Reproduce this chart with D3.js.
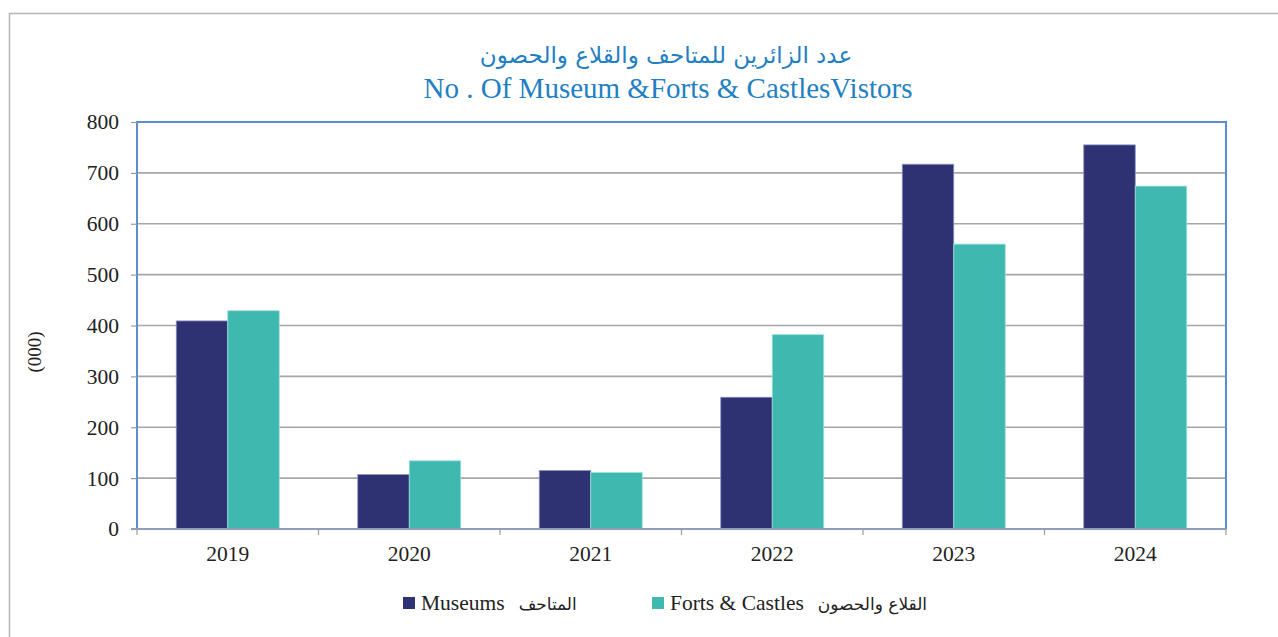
<!DOCTYPE html>
<html>
<head>
<meta charset="utf-8">
<script src="https://cdn.jsdelivr.net/npm/d3@7"></script>
<style>
  html, body { margin: 0; padding: 0; background: #fff; }
  svg { display: block; }
</style>
</head>
<body>
<svg id="chart" width="1278" height="637"></svg>
<script>
// Visitors (thousands) per year
const years = ["2019", "2020", "2021", "2022", "2023", "2024"];
const museums = [409, 107, 115, 259, 717, 755];
const forts = [429, 134, 111, 382, 560, 674];
const yTicks = [0, 100, 200, 300, 400, 500, 600, 700, 800];

const titleAr = "عدد الزائرين للمتاحف والقلاع والحصون";
const titleEn = "No . Of Museum &Forts & CastlesVistors";
const seriesNames = [
  { en: "Museums", ar: "المتاحف", color: "#2e3272" },
  { en: "Forts & Castles", ar: "القلاع والحصون", color: "#3fb8b0" }
];

const svg = d3.select("#chart");
const W = 1278, H = 637;
const m = { left: 137, top: 122, right: 1226, bottom: 529 };
const serif = "'Liberation Serif', 'Times New Roman', serif";
const arabicFont = "'DejaVu Sans', 'Noto Sans', sans-serif";

// outer frame
svg.append("rect")
  .attr("x", 9.5).attr("y", 13.5)
  .attr("width", W + 20).attr("height", H + 20)
  .attr("fill", "none").attr("stroke", "#b4b4b4").attr("stroke-width", 1.5);

const x = d3.scaleBand().domain(years).range([m.left, m.right]).paddingInner(0.4325).paddingOuter(0.21625);
const x1 = d3.scaleBand().domain([0, 1]).range([0, x.bandwidth()]);
const y = d3.scaleLinear().domain([0, 800]).range([m.bottom, m.top]);

// gridlines
svg.append("g").selectAll("line").data(yTicks.filter(d => d > 0 && d < 800)).join("line")
  .attr("x1", m.left).attr("x2", m.right)
  .attr("y1", d => y(d)).attr("y2", d => y(d))
  .attr("stroke", "#a6a6a6").attr("stroke-width", 1.6);

// bars
const groups = svg.append("g").selectAll("g").data(years).join("g")
  .attr("transform", d => `translate(${x(d)},0)`);
groups.selectAll("rect")
  .data((d, i) => [museums[i], forts[i]].map((v, k) => ({ v, k })))
  .join("rect")
  .attr("x", d => x1(d.k))
  .attr("width", x1.bandwidth())
  .attr("y", d => y(d.v))
  .attr("height", d => y(0) - y(d.v))
  .attr("fill", d => seriesNames[d.k].color)
  .attr("stroke", d => d.k === 0 ? "#8f92c4" : "#9fe0da")
  .attr("stroke-width", 0.8);

// plot frame (left, top, right)
svg.append("path")
  .attr("d", `M${m.left},${m.bottom} V${m.top} H${m.right} V${m.bottom}`)
  .attr("fill", "none").attr("stroke", "#5b8ed0").attr("stroke-width", 2);

// y axis
const yAxis = svg.append("g")
  .attr("transform", `translate(${m.left},0)`)
  .call(d3.axisLeft(y).tickValues(yTicks).tickSize(6).tickPadding(12));
yAxis.select(".domain").remove();
yAxis.selectAll("line").attr("stroke", "#9a9a9a").attr("stroke-width", 1.2);
yAxis.selectAll("text").attr("font-family", serif).attr("font-size", 21.5).attr("fill", "#222");

// x axis
const bounds = d3.range(years.length + 1).map(i => m.left + i * x.step());
svg.append("line")
  .attr("x1", m.left - 6).attr("x2", m.right)
  .attr("y1", m.bottom).attr("y2", m.bottom)
  .attr("stroke", "#8f9db5").attr("stroke-width", 2);
svg.append("g").selectAll("line").data(bounds).join("line")
  .attr("x1", d => d).attr("x2", d => d)
  .attr("y1", m.bottom).attr("y2", m.bottom + 6)
  .attr("stroke", "#9a9a9a").attr("stroke-width", 1.2);
svg.append("g").selectAll("text").data(years).join("text")
  .attr("x", d => x(d) + x.bandwidth() / 2)
  .attr("y", 561)
  .attr("text-anchor", "middle")
  .attr("font-family", serif).attr("font-size", 21.5).attr("fill", "#222")
  .text(d => d);

// y axis unit label
svg.append("text")
  .attr("transform", "translate(41,352) rotate(-90)")
  .attr("text-anchor", "middle")
  .attr("font-family", serif).attr("font-size", 19).attr("fill", "#222")
  .text("(000)");

// titles
svg.append("text")
  .attr("x", 666).attr("y", 63)
  .attr("text-anchor", "middle")
  .attr("font-family", arabicFont).attr("font-size", 23).attr("fill", "#1f80c3")
  .attr("direction", "rtl")
  .text(titleAr);
svg.append("text")
  .attr("x", 668).attr("y", 98)
  .attr("text-anchor", "middle")
  .attr("font-family", serif).attr("font-size", 29).attr("fill", "#1f80c3")
  .text(titleEn);

// legend
const legendX = [403, 652];
seriesNames.forEach((s, i) => {
  const g = svg.append("g").attr("transform", `translate(${legendX[i]},0)`);
  g.append("rect").attr("x", 0).attr("y", 597).attr("width", 12).attr("height", 12).attr("fill", s.color);
  const t = g.append("text")
    .attr("x", 18).attr("y", 610)
    .attr("font-family", serif).attr("font-size", 21.5).attr("fill", "#222")
    .text(s.en);
  const w = t.node().getComputedTextLength();
  g.append("text")
    .attr("x", 18 + w + 14).attr("y", 610)
    .attr("font-family", arabicFont).attr("font-size", 17).attr("fill", "#222")
    .text(s.ar);
});
</script>
</body>
</html>
